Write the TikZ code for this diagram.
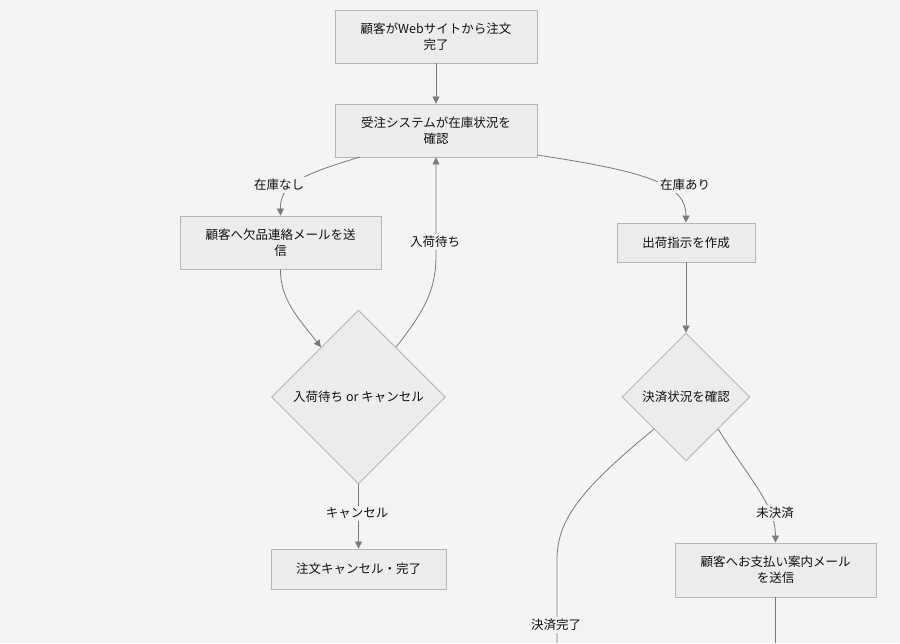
\documentclass[tikz,border=0pt]{standalone}
\usepackage{fontspec}
\setmainfont{Noto Sans CJK JP}
\usetikzlibrary{shapes.geometric,arrows.meta}
\definecolor{bgc}{HTML}{F4F4F4}
\definecolor{boxfill}{HTML}{ECECEC}
\definecolor{boxline}{HTML}{B5B5B5}
\definecolor{edgec}{HTML}{7A7A7A}
\definecolor{txtc}{HTML}{111111}
\definecolor{lblbg}{HTML}{F2F2F2}
\tikzset{
  stepbox/.style={draw=boxline, fill=boxfill, line width=0.9pt, align=center, inner sep=0pt, text=txtc},
  decision/.style={diamond, aspect=1, draw=boxline, fill=boxfill, line width=0.9pt, inner sep=0pt, align=center, text=txtc},
  edge/.style={draw=edgec, line width=0.8pt, -{Triangle[length=7pt,width=7pt]}},
  plainedge/.style={draw=edgec, line width=0.8pt},
  elabel/.style={fill=lblbg, inner sep=2pt, text=txtc}
}
\begin{document}
\begin{tikzpicture}[x=1pt,y=-1pt,font=\fontsize{12.5}{16}\selectfont]
\fill[bgc] (0,0) rectangle (900,643);
\useasboundingbox (0,0) rectangle (900,643);

\node[stepbox, minimum width=202pt, minimum height=53pt] (A) at (436,36.5) {顧客がWebサイトから注文\\完了};
\node[stepbox, minimum width=202pt, minimum height=53pt] (B) at (436,130.5) {受注システムが在庫状況を\\確認};
\node[stepbox, minimum width=201pt, minimum height=53pt] (C) at (280.5,242.5) {顧客へ欠品連絡メールを送\\信};
\node[decision, minimum width=174pt, minimum height=174pt] (D) at (358.5,397) {入荷待ち or キャンセル};
\node[stepbox, minimum width=138pt, minimum height=39pt] (E) at (686,242.5) {出荷指示を作成};
\node[decision, minimum width=128pt, minimum height=128pt] (F) at (686,397) {決済状況を確認};
\node[stepbox, minimum width=175pt, minimum height=40pt] (G) at (358.5,569) {注文キャンセル・完了};
\node[stepbox, minimum width=201pt, minimum height=54pt] (H) at (775.5,570) {顧客へお支払い案内メール\\を送信};

\coordinate (Bsw) at (360,157);
\coordinate (Bse) at (537,155);
\coordinate (Fend) at (557,643);
\coordinate (Hend) at (775.5,643);

\draw[edge] (A) -- (B);
\draw[edge] (Bsw) .. controls (300,175) and (280,185) .. (C.north);
\draw[edge] (Bse) .. controls (650,172) and (686,185) .. (E.north);
\draw[edge] (C.south) .. controls (280,300) and (300,320) .. (D.127);
\draw[edge] (D.53) .. controls (425,310) and (436,290) .. (436,255) -- (B.south);
\draw[edge] (D.south) -- (G.north);
\draw[edge] (E.south) -- (F.north);
\draw[plainedge] (F.south west) .. controls (580,490) and (557,520) .. (557,560) -- (Fend);
\draw[edge] (F.south east) .. controls (750,480) and (775.5,505) .. (H.north);
\draw[plainedge] (H.south) -- (Hend);

\node[elabel] (l1) at (279,185) {在庫なし};
\node[elabel] (l2) at (685,185) {在庫あり};
\node[elabel] (l3) at (435,242) {入荷待ち};
\node[elabel] (l4) at (357,513) {キャンセル};
\node[elabel] (l5) at (775,513) {未決済};
\node[elabel] (l6) at (556,625) {決済完了};
\end{tikzpicture}
\end{document}
